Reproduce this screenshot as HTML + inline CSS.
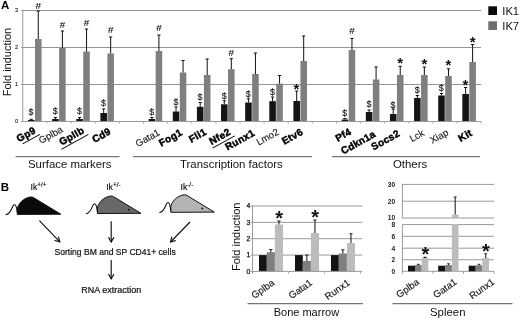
<!DOCTYPE html>
<html><head><meta charset="utf-8"><title>Figure</title>
<style>
html,body{margin:0;padding:0;background:#fff;}
body{width:520px;height:320px;overflow:hidden;}
svg{display:block;font-family:"Liberation Sans", Arial, sans-serif;will-change:transform;filter:grayscale(1);}
</style></head><body>
<svg width="520" height="320" viewBox="0 0 520 320">
<rect width="520" height="320" fill="#fff"/>
<line x1="22.8" y1="84.50" x2="481" y2="84.50" stroke="#959595" stroke-width="1.2"/>
<line x1="22.8" y1="47.50" x2="481" y2="47.50" stroke="#959595" stroke-width="1.2"/>
<line x1="22.8" y1="10.50" x2="481" y2="10.50" stroke="#959595" stroke-width="1.2"/>
<text x="18.3" y="123.40" font-size="5.8" text-anchor="end" fill="#222" stroke="#222" stroke-width="0.1">0</text>
<text x="18.3" y="86.40" font-size="5.8" text-anchor="end" fill="#222" stroke="#222" stroke-width="0.1">1</text>
<text x="18.3" y="49.40" font-size="5.8" text-anchor="end" fill="#222" stroke="#222" stroke-width="0.1">2</text>
<text x="18.3" y="12.40" font-size="5.8" text-anchor="end" fill="#222" stroke="#222" stroke-width="0.1">3</text>
<line x1="46.93" y1="121.5" x2="46.93" y2="123.7" stroke="#9a9a9a" stroke-width="0.8"/>
<rect x="28.00" y="120.00" width="6.55" height="1.50" fill="#141414"/>
<rect x="35.00" y="39.00" width="6.55" height="82.50" fill="#7f7f7f"/>
<path d="M31.27 120.00V119.30M29.67 119.30H32.88" stroke="#111" stroke-width="1.0" fill="none"/>
<path d="M38.27 39.00V11.00M36.67 11.00H39.88" stroke="#111" stroke-width="1.0" fill="none"/>
<text x="31.07" y="115.45" font-size="8.8" text-anchor="middle" fill="#111" stroke="#111" stroke-width="0.12">$</text>
<text x="38.27" y="8.65" font-size="9.8" text-anchor="middle" fill="#111" stroke="#111" stroke-width="0.15">#</text>
<g transform="translate(36.66 132.5) rotate(-29)"><text x="0" y="0" font-size="10" font-weight="bold" text-anchor="end" fill="#000" stroke="#000" stroke-width="0.45" letter-spacing="0.3">Gp9</text>
<line x1="-17.8" y1="3.2" x2="2" y2="3.2" stroke="#000" stroke-width="1"/>
</g>
<line x1="71.06" y1="121.5" x2="71.06" y2="123.7" stroke="#9a9a9a" stroke-width="0.8"/>
<rect x="52.13" y="119.00" width="6.55" height="2.50" fill="#141414"/>
<rect x="59.13" y="48.00" width="6.55" height="73.50" fill="#7f7f7f"/>
<path d="M55.41 119.00V117.50M53.80 117.50H57.01" stroke="#111" stroke-width="1.0" fill="none"/>
<path d="M62.41 48.00V31.00M60.80 31.00H64.00" stroke="#111" stroke-width="1.0" fill="none"/>
<text x="55.20" y="114.45" font-size="8.8" text-anchor="middle" fill="#111" stroke="#111" stroke-width="0.12">$</text>
<text x="62.41" y="28.40" font-size="9.8" text-anchor="middle" fill="#111" stroke="#111" stroke-width="0.15">#</text>
<g transform="translate(63.49 131.5) rotate(-29)"><text x="0" y="0" font-size="9.6" font-weight="normal" text-anchor="end" fill="#1a1a1a" stroke="#222" stroke-width="0.15">Gplba</text>
</g>
<line x1="95.19" y1="121.5" x2="95.19" y2="123.7" stroke="#9a9a9a" stroke-width="0.8"/>
<rect x="76.26" y="119.00" width="6.55" height="2.50" fill="#141414"/>
<rect x="83.26" y="51.50" width="6.55" height="70.00" fill="#7f7f7f"/>
<path d="M79.54 119.00V117.50M77.94 117.50H81.14" stroke="#111" stroke-width="1.0" fill="none"/>
<path d="M86.54 51.50V29.00M84.94 29.00H88.14" stroke="#111" stroke-width="1.0" fill="none"/>
<text x="79.34" y="113.95" font-size="8.8" text-anchor="middle" fill="#111" stroke="#111" stroke-width="0.12">$</text>
<text x="86.54" y="26.40" font-size="9.8" text-anchor="middle" fill="#111" stroke="#111" stroke-width="0.15">#</text>
<g transform="translate(85.12 132.5) rotate(-29)"><text x="0" y="0" font-size="10" font-weight="bold" text-anchor="end" fill="#000" stroke="#000" stroke-width="0.45" letter-spacing="0.3">GpIIb</text>
<line x1="-29.0" y1="3.2" x2="2" y2="3.2" stroke="#000" stroke-width="1"/>
</g>
<line x1="119.32" y1="121.5" x2="119.32" y2="123.7" stroke="#9a9a9a" stroke-width="0.8"/>
<rect x="100.39" y="113.00" width="6.55" height="8.50" fill="#141414"/>
<rect x="107.39" y="53.50" width="6.55" height="68.00" fill="#7f7f7f"/>
<path d="M103.67 113.00V109.00M102.07 109.00H105.27" stroke="#111" stroke-width="1.0" fill="none"/>
<path d="M110.67 53.50V37.00M109.07 37.00H112.27" stroke="#111" stroke-width="1.0" fill="none"/>
<text x="103.47" y="106.45" font-size="8.8" text-anchor="middle" fill="#111" stroke="#111" stroke-width="0.12">$</text>
<text x="110.67" y="33.40" font-size="9.8" text-anchor="middle" fill="#111" stroke="#111" stroke-width="0.15">#</text>
<g transform="translate(111.75 133.5) rotate(-29)"><text x="0" y="0" font-size="10" font-weight="bold" text-anchor="end" fill="#000" stroke="#000" stroke-width="0.45" letter-spacing="0.3">Cd9</text>
</g>
<line x1="143.45" y1="121.5" x2="143.45" y2="123.7" stroke="#9a9a9a" stroke-width="0.8"/>
<line x1="167.58" y1="121.5" x2="167.58" y2="123.7" stroke="#9a9a9a" stroke-width="0.8"/>
<rect x="148.65" y="119.00" width="6.55" height="2.50" fill="#141414"/>
<rect x="155.65" y="51.00" width="6.55" height="70.50" fill="#7f7f7f"/>
<path d="M151.92 119.00V117.50M150.32 117.50H153.52" stroke="#111" stroke-width="1.0" fill="none"/>
<path d="M158.92 51.00V35.00M157.32 35.00H160.52" stroke="#111" stroke-width="1.0" fill="none"/>
<text x="151.72" y="115.45" font-size="8.8" text-anchor="middle" fill="#111" stroke="#111" stroke-width="0.12">$</text>
<text x="158.92" y="31.40" font-size="9.8" text-anchor="middle" fill="#111" stroke="#111" stroke-width="0.15">#</text>
<g transform="translate(160.51 134.5) rotate(-29)"><text x="0" y="0" font-size="9.6" font-weight="normal" text-anchor="end" fill="#1a1a1a" stroke="#222" stroke-width="0.15">Gata1</text>
</g>
<line x1="191.71" y1="121.5" x2="191.71" y2="123.7" stroke="#9a9a9a" stroke-width="0.8"/>
<rect x="172.78" y="111.50" width="6.55" height="10.00" fill="#141414"/>
<rect x="179.78" y="72.50" width="6.55" height="49.00" fill="#7f7f7f"/>
<path d="M176.06 111.50V107.00M174.46 107.00H177.66" stroke="#111" stroke-width="1.0" fill="none"/>
<path d="M183.06 72.50V60.50M181.46 60.50H184.66" stroke="#111" stroke-width="1.0" fill="none"/>
<text x="175.86" y="104.75" font-size="8.8" text-anchor="middle" fill="#111" stroke="#111" stroke-width="0.12">$</text>
<g transform="translate(183.15 134.5) rotate(-29)"><text x="0" y="0" font-size="10" font-weight="bold" text-anchor="end" fill="#000" stroke="#000" stroke-width="0.45" letter-spacing="0.3">Fog1</text>
</g>
<line x1="215.84" y1="121.5" x2="215.84" y2="123.7" stroke="#9a9a9a" stroke-width="0.8"/>
<rect x="196.91" y="106.80" width="6.55" height="14.70" fill="#141414"/>
<rect x="203.91" y="75.00" width="6.55" height="46.50" fill="#7f7f7f"/>
<path d="M200.19 106.80V102.50M198.59 102.50H201.78" stroke="#111" stroke-width="1.0" fill="none"/>
<path d="M207.19 75.00V59.00M205.59 59.00H208.78" stroke="#111" stroke-width="1.0" fill="none"/>
<text x="199.99" y="99.95" font-size="8.8" text-anchor="middle" fill="#111" stroke="#111" stroke-width="0.12">$</text>
<g transform="translate(207.28 134.0) rotate(-29)"><text x="0" y="0" font-size="10" font-weight="bold" text-anchor="end" fill="#000" stroke="#000" stroke-width="0.45" letter-spacing="0.3">Fli1</text>
</g>
<line x1="239.97" y1="121.5" x2="239.97" y2="123.7" stroke="#9a9a9a" stroke-width="0.8"/>
<rect x="221.04" y="104.30" width="6.55" height="17.20" fill="#141414"/>
<rect x="228.04" y="69.20" width="6.55" height="52.30" fill="#7f7f7f"/>
<path d="M224.31 104.30V100.80M222.72 100.80H225.91" stroke="#111" stroke-width="1.0" fill="none"/>
<path d="M231.31 69.20V58.70M229.72 58.70H232.91" stroke="#111" stroke-width="1.0" fill="none"/>
<text x="224.12" y="98.95" font-size="8.8" text-anchor="middle" fill="#111" stroke="#111" stroke-width="0.12">$</text>
<text x="231.31" y="56.40" font-size="9.8" text-anchor="middle" fill="#111" stroke="#111" stroke-width="0.15">#</text>
<g transform="translate(231.41 134.0) rotate(-29)"><text x="0" y="0" font-size="10" font-weight="bold" text-anchor="end" fill="#000" stroke="#000" stroke-width="0.45" letter-spacing="0.3">Nfe2</text>
<line x1="-23.4" y1="3.2" x2="2" y2="3.2" stroke="#000" stroke-width="1"/>
</g>
<line x1="264.10" y1="121.5" x2="264.10" y2="123.7" stroke="#9a9a9a" stroke-width="0.8"/>
<rect x="245.17" y="102.50" width="6.55" height="19.00" fill="#141414"/>
<rect x="252.17" y="74.00" width="6.55" height="47.50" fill="#7f7f7f"/>
<path d="M248.44 102.50V98.80M246.84 98.80H250.04" stroke="#111" stroke-width="1.0" fill="none"/>
<path d="M255.44 74.00V53.00M253.84 53.00H257.05" stroke="#111" stroke-width="1.0" fill="none"/>
<text x="248.25" y="96.95" font-size="8.8" text-anchor="middle" fill="#111" stroke="#111" stroke-width="0.12">$</text>
<g transform="translate(255.53 135) rotate(-29)"><text x="0" y="0" font-size="10" font-weight="bold" text-anchor="end" fill="#000" stroke="#000" stroke-width="0.45" letter-spacing="0.3">Runx1</text>
</g>
<line x1="288.23" y1="121.5" x2="288.23" y2="123.7" stroke="#9a9a9a" stroke-width="0.8"/>
<rect x="269.30" y="101.20" width="6.55" height="20.30" fill="#141414"/>
<rect x="276.30" y="83.70" width="6.55" height="37.80" fill="#7f7f7f"/>
<path d="M272.57 101.20V97.00M270.97 97.00H274.17" stroke="#111" stroke-width="1.0" fill="none"/>
<path d="M279.57 83.70V75.50M277.97 75.50H281.17" stroke="#111" stroke-width="1.0" fill="none"/>
<text x="272.37" y="94.95" font-size="8.8" text-anchor="middle" fill="#111" stroke="#111" stroke-width="0.12">$</text>
<g transform="translate(279.66 134.0) rotate(-29)"><text x="0" y="0" font-size="9.6" font-weight="normal" text-anchor="end" fill="#1a1a1a" stroke="#222" stroke-width="0.15">Lmo2</text>
</g>
<line x1="312.36" y1="121.5" x2="312.36" y2="123.7" stroke="#9a9a9a" stroke-width="0.8"/>
<rect x="293.43" y="101.00" width="6.55" height="20.50" fill="#141414"/>
<rect x="300.43" y="61.00" width="6.55" height="60.50" fill="#7f7f7f"/>
<path d="M296.70 101.00V91.00M295.10 91.00H298.31" stroke="#111" stroke-width="1.0" fill="none"/>
<path d="M303.70 61.00V36.00M302.10 36.00H305.31" stroke="#111" stroke-width="1.0" fill="none"/>
<text x="296.50" y="93.70" font-size="15" font-weight="bold" text-anchor="middle" fill="#111">*</text>
<g transform="translate(303.80 134.0) rotate(-29)"><text x="0" y="0" font-size="10" font-weight="bold" text-anchor="end" fill="#000" stroke="#000" stroke-width="0.45" letter-spacing="0.3">Etv6</text>
</g>
<line x1="336.49" y1="121.5" x2="336.49" y2="123.7" stroke="#9a9a9a" stroke-width="0.8"/>
<line x1="360.62" y1="121.5" x2="360.62" y2="123.7" stroke="#9a9a9a" stroke-width="0.8"/>
<rect x="341.69" y="119.50" width="6.55" height="2.00" fill="#141414"/>
<rect x="348.69" y="50.00" width="6.55" height="71.50" fill="#7f7f7f"/>
<path d="M344.96 119.50V118.50M343.36 118.50H346.56" stroke="#111" stroke-width="1.0" fill="none"/>
<path d="M351.96 50.00V38.50M350.36 38.50H353.56" stroke="#111" stroke-width="1.0" fill="none"/>
<text x="344.76" y="116.25" font-size="8.8" text-anchor="middle" fill="#111" stroke="#111" stroke-width="0.12">$</text>
<text x="351.96" y="34.40" font-size="9.8" text-anchor="middle" fill="#111" stroke="#111" stroke-width="0.15">#</text>
<g transform="translate(352.06 134.0) rotate(-29)"><text x="0" y="0" font-size="10" font-weight="bold" text-anchor="end" fill="#000" stroke="#000" stroke-width="0.45" letter-spacing="0.3">Pf4</text>
</g>
<line x1="384.75" y1="121.5" x2="384.75" y2="123.7" stroke="#9a9a9a" stroke-width="0.8"/>
<rect x="365.82" y="112.00" width="6.55" height="9.50" fill="#141414"/>
<rect x="372.82" y="79.50" width="6.55" height="42.00" fill="#7f7f7f"/>
<path d="M369.09 112.00V110.00M367.49 110.00H370.69" stroke="#111" stroke-width="1.0" fill="none"/>
<path d="M376.09 79.50V67.00M374.49 67.00H377.69" stroke="#111" stroke-width="1.0" fill="none"/>
<text x="368.89" y="106.95" font-size="8.8" text-anchor="middle" fill="#111" stroke="#111" stroke-width="0.12">$</text>
<g transform="translate(376.49 136.2) rotate(-29)"><text x="0" y="0" font-size="10" font-weight="bold" text-anchor="end" fill="#000" stroke="#000" stroke-width="0.45" letter-spacing="0.3">Cdkn1a</text>
</g>
<line x1="408.88" y1="121.5" x2="408.88" y2="123.7" stroke="#9a9a9a" stroke-width="0.8"/>
<rect x="389.95" y="114.00" width="6.55" height="7.50" fill="#141414"/>
<rect x="396.95" y="75.00" width="6.55" height="46.50" fill="#7f7f7f"/>
<path d="M393.22 114.00V109.00M391.62 109.00H394.82" stroke="#111" stroke-width="1.0" fill="none"/>
<path d="M400.22 75.00V66.30M398.62 66.30H401.82" stroke="#111" stroke-width="1.0" fill="none"/>
<text x="393.02" y="107.95" font-size="8.8" text-anchor="middle" fill="#111" stroke="#111" stroke-width="0.12">$</text>
<text x="400.22" y="67.75" font-size="15" font-weight="bold" text-anchor="middle" fill="#111">*</text>
<g transform="translate(400.62 135.5) rotate(-29)"><text x="0" y="0" font-size="10" font-weight="bold" text-anchor="end" fill="#000" stroke="#000" stroke-width="0.45" letter-spacing="0.3">Socs2</text>
</g>
<line x1="433.01" y1="121.5" x2="433.01" y2="123.7" stroke="#9a9a9a" stroke-width="0.8"/>
<rect x="414.08" y="98.00" width="6.55" height="23.50" fill="#141414"/>
<rect x="421.08" y="75.00" width="6.55" height="46.50" fill="#7f7f7f"/>
<path d="M417.35 98.00V95.50M415.75 95.50H418.95" stroke="#111" stroke-width="1.0" fill="none"/>
<path d="M424.35 75.00V67.00M422.75 67.00H425.95" stroke="#111" stroke-width="1.0" fill="none"/>
<text x="417.15" y="92.95" font-size="8.8" text-anchor="middle" fill="#111" stroke="#111" stroke-width="0.12">$</text>
<text x="424.35" y="69.00" font-size="15" font-weight="bold" text-anchor="middle" fill="#111">*</text>
<g transform="translate(424.94 135) rotate(-29)"><text x="0" y="0" font-size="9.6" font-weight="normal" text-anchor="end" fill="#1a1a1a" stroke="#222" stroke-width="0.15">Lck</text>
</g>
<line x1="457.14" y1="121.5" x2="457.14" y2="123.7" stroke="#9a9a9a" stroke-width="0.8"/>
<rect x="438.21" y="95.50" width="6.55" height="26.00" fill="#141414"/>
<rect x="445.21" y="76.00" width="6.55" height="45.50" fill="#7f7f7f"/>
<path d="M441.48 95.50V93.50M439.88 93.50H443.08" stroke="#111" stroke-width="1.0" fill="none"/>
<path d="M448.48 76.00V68.80M446.88 68.80H450.08" stroke="#111" stroke-width="1.0" fill="none"/>
<text x="441.28" y="91.45" font-size="8.8" text-anchor="middle" fill="#111" stroke="#111" stroke-width="0.12">$</text>
<text x="448.48" y="70.25" font-size="15" font-weight="bold" text-anchor="middle" fill="#111">*</text>
<g transform="translate(449.07 134.5) rotate(-29)"><text x="0" y="0" font-size="9.6" font-weight="normal" text-anchor="end" fill="#1a1a1a" stroke="#222" stroke-width="0.15">Xiap</text>
</g>
<line x1="481.27" y1="121.5" x2="481.27" y2="123.7" stroke="#9a9a9a" stroke-width="0.8"/>
<rect x="462.34" y="94.00" width="6.55" height="27.50" fill="#141414"/>
<rect x="469.34" y="62.00" width="6.55" height="59.50" fill="#7f7f7f"/>
<path d="M465.61 94.00V87.50M464.01 87.50H467.21" stroke="#111" stroke-width="1.0" fill="none"/>
<path d="M472.61 62.00V44.50M471.01 44.50H474.21" stroke="#111" stroke-width="1.0" fill="none"/>
<text x="465.41" y="89.50" font-size="15" font-weight="bold" text-anchor="middle" fill="#111">*</text>
<text x="472.61" y="46.50" font-size="15" font-weight="bold" text-anchor="middle" fill="#111">*</text>
<g transform="translate(473.00 135) rotate(-29)"><text x="0" y="0" font-size="10" font-weight="bold" text-anchor="end" fill="#000" stroke="#000" stroke-width="0.45" letter-spacing="0.3">Kit</text>
</g>
<line x1="22.8" y1="10.00" x2="22.8" y2="122.0" stroke="#9a9a9a" stroke-width="1"/>
<line x1="20.8" y1="121.5" x2="481" y2="121.5" stroke="#9a9a9a" stroke-width="1"/>
<line x1="20.8" y1="84.50" x2="22.8" y2="84.50" stroke="#9a9a9a" stroke-width="1"/>
<line x1="20.8" y1="47.50" x2="22.8" y2="47.50" stroke="#9a9a9a" stroke-width="1"/>
<line x1="20.8" y1="10.50" x2="22.8" y2="10.50" stroke="#9a9a9a" stroke-width="1"/>
<text transform="translate(11.3 96.3) rotate(-90)" font-size="11" fill="#111">Fold induction</text>
<text x="1" y="9.3" font-size="11.5" font-weight="bold" fill="#000">A</text>
<rect x="488.3" y="6.3" width="8.7" height="8.7" fill="#0a0a0a"/>
<rect x="488.3" y="21.3" width="8.7" height="8.7" fill="#6e6e6e"/>
<text x="502.3" y="15" font-size="11.2" fill="#111">IK1</text>
<text x="502.3" y="29.6" font-size="11.2" fill="#111">IK7</text>
<line x1="15.5" y1="156.7" x2="119.5" y2="156.7" stroke="#555" stroke-width="1"/>
<line x1="133" y1="156.7" x2="312" y2="156.7" stroke="#555" stroke-width="1"/>
<line x1="332" y1="156.7" x2="480" y2="156.7" stroke="#555" stroke-width="1"/>
<text x="28" y="168" font-size="11.4" fill="#111">Surface markers</text>
<text x="180" y="168" font-size="11.4" fill="#111">Transcription factors</text>
<text x="393" y="168" font-size="11.4" fill="#111">Others</text>
<text x="0.8" y="190.6" font-size="11.5" font-weight="bold" fill="#000">B</text>
<g transform="translate(0 0)">
<path d="M17.3 214.4 L17.3 209 C17.8 204.5 23 197.6 31.2 196.9 C32 196.9 32.8 197.2 33.5 197.6 L60.8 214.2 Z" fill="#0a0a0a" stroke="#111" stroke-width="1" stroke-linejoin="round"/>
<path d="M6.2 214.6 C9.5 214.2 11.5 209.5 12.6 206.8 C13.4 204.9 14.3 204.5 15 204.8 C16.3 205.3 16.7 208 17.3 212.5" fill="none" stroke="#111" stroke-width="1.1" stroke-linecap="round"/>
</g>
<g transform="translate(80.1 -0.9)">
<path d="M17.3 214.4 L17.3 209 C17.8 204.5 23 197.6 31.2 196.9 C32 196.9 32.8 197.2 33.5 197.6 L60.8 214.2 Z" fill="#686868" stroke="#111" stroke-width="1" stroke-linejoin="round"/>
<path d="M6.2 214.6 C9.5 214.2 11.5 209.5 12.6 206.8 C13.4 204.9 14.3 204.5 15 204.8 C16.3 205.3 16.7 208 17.3 212.5" fill="none" stroke="#111" stroke-width="1.1" stroke-linecap="round"/>
<circle cx="48.7" cy="210.7" r="1" fill="#111"/>
</g>
<g transform="translate(153.5 -2.1)">
<path d="M17.3 214.4 L17.3 209 C17.8 204.5 23 197.6 31.2 196.9 C32 196.9 32.8 197.2 33.5 197.6 L60.8 214.2 Z" fill="#b4b4b4" stroke="#111" stroke-width="1" stroke-linejoin="round"/>
<path d="M6.2 214.6 C9.5 214.2 11.5 209.5 12.6 206.8 C13.4 204.9 14.3 204.5 15 204.8 C16.3 205.3 16.7 208 17.3 212.5" fill="none" stroke="#111" stroke-width="1.1" stroke-linecap="round"/>
<circle cx="48.7" cy="210.7" r="1" fill="#111"/>
</g>
<text x="30.5" y="190" font-size="8.6" fill="#111" stroke="#111" stroke-width="0.15">Ik<tspan dy="-3" font-size="6.5">+/+</tspan></text>
<text x="106.2" y="190" font-size="8.6" fill="#111" stroke="#111" stroke-width="0.15">Ik<tspan dy="-3" font-size="6.5">+/-</tspan></text>
<text x="180.5" y="190" font-size="8.6" fill="#111" stroke="#111" stroke-width="0.15">Ik<tspan dy="-3" font-size="6.5">-/-</tspan></text>
<line x1="39.4" y1="220.6" x2="59.8" y2="241.9" stroke="#111" stroke-width="1.15"/>
<path d="M55.00 240.48L59.8 241.9L58.59 237.05" fill="none" stroke="#111" stroke-width="1.15" stroke-linecap="round" stroke-linejoin="miter"/>
<line x1="111.2" y1="221.3" x2="111.2" y2="242" stroke="#111" stroke-width="1.15"/>
<path d="M108.72 237.66L111.2 242L113.68 237.66" fill="none" stroke="#111" stroke-width="1.15" stroke-linecap="round" stroke-linejoin="miter"/>
<line x1="190" y1="222" x2="170.5" y2="242" stroke="#111" stroke-width="1.15"/>
<path d="M171.75 237.16L170.5 242L175.31 240.63" fill="none" stroke="#111" stroke-width="1.15" stroke-linecap="round" stroke-linejoin="miter"/>
<line x1="111.2" y1="260" x2="111.2" y2="278.8" stroke="#111" stroke-width="1.15"/>
<path d="M108.72 274.46L111.2 278.8L113.68 274.46" fill="none" stroke="#111" stroke-width="1.15" stroke-linecap="round" stroke-linejoin="miter"/>
<text x="54.5" y="254.5" font-size="8.4" fill="#111" stroke="#111" stroke-width="0.2" textLength="121.2" lengthAdjust="spacingAndGlyphs">Sorting BM and SP CD41+ cells</text>
<text x="81.2" y="292.5" font-size="8.4" fill="#111" stroke="#111" stroke-width="0.2" textLength="60" lengthAdjust="spacingAndGlyphs">RNA extraction</text>
<line x1="250.5" y1="255.05" x2="362.3" y2="255.05" stroke="#9a9a9a" stroke-width="1"/>
<line x1="250.5" y1="238.70" x2="362.3" y2="238.70" stroke="#9a9a9a" stroke-width="1"/>
<line x1="250.5" y1="222.35" x2="362.3" y2="222.35" stroke="#9a9a9a" stroke-width="1"/>
<line x1="250.5" y1="206.00" x2="362.3" y2="206.00" stroke="#9a9a9a" stroke-width="1"/>
<text x="250.3" y="273.80" font-size="6.8" text-anchor="end" fill="#111" stroke="#111" stroke-width="0.25">0</text>
<text x="250.3" y="257.45" font-size="6.8" text-anchor="end" fill="#111" stroke="#111" stroke-width="0.25">1</text>
<text x="250.3" y="241.10" font-size="6.8" text-anchor="end" fill="#111" stroke="#111" stroke-width="0.25">2</text>
<text x="250.3" y="224.75" font-size="6.8" text-anchor="end" fill="#111" stroke="#111" stroke-width="0.25">3</text>
<text x="250.3" y="208.40" font-size="6.8" text-anchor="end" fill="#111" stroke="#111" stroke-width="0.25">4</text>
<rect x="259.00" y="255.1" width="7.8" height="16.30" fill="#141414"/>
<rect x="266.80" y="252.2" width="8.1" height="19.20" fill="#7f7f7f"/>
<rect x="274.90" y="224.5" width="8.1" height="46.90" fill="#bcbcbc"/>
<path d="M270.85 252.20V249.50M269.25 249.50H272.45" stroke="#222" stroke-width="1.1" fill="none"/>
<path d="M278.95 224.50V221.00M277.35 221.00H280.55" stroke="#222" stroke-width="1.1" fill="none"/>
<text x="279.20" y="224.90" font-size="20" font-weight="bold" text-anchor="middle" fill="#111">*</text>
<line x1="288.50" y1="271.4" x2="288.50" y2="273.9" stroke="#9a9a9a" stroke-width="0.8"/>
<g transform="translate(275.20 284.3) rotate(-35)"><text font-size="9.6" text-anchor="end" fill="#111" stroke="#111" stroke-width="0.15">Gplba</text></g>
<rect x="295.00" y="255.1" width="7.8" height="16.30" fill="#141414"/>
<rect x="302.80" y="261.0" width="8.1" height="10.40" fill="#7f7f7f"/>
<rect x="310.90" y="233.0" width="8.1" height="38.40" fill="#bcbcbc"/>
<path d="M306.85 261.00V255.00M305.25 255.00H308.45" stroke="#222" stroke-width="1.1" fill="none"/>
<path d="M314.95 233.00V220.00M313.35 220.00H316.55" stroke="#222" stroke-width="1.1" fill="none"/>
<text x="315.20" y="224.20" font-size="20" font-weight="bold" text-anchor="middle" fill="#111">*</text>
<line x1="324.50" y1="271.4" x2="324.50" y2="273.9" stroke="#9a9a9a" stroke-width="0.8"/>
<g transform="translate(313.00 284.3) rotate(-35)"><text font-size="9.6" text-anchor="end" fill="#111" stroke="#111" stroke-width="0.15">Gata1</text></g>
<rect x="331.00" y="255.1" width="7.8" height="16.30" fill="#141414"/>
<rect x="338.80" y="253.5" width="8.1" height="17.90" fill="#7f7f7f"/>
<rect x="346.90" y="243.0" width="8.1" height="28.40" fill="#bcbcbc"/>
<path d="M342.85 253.50V249.80M341.25 249.80H344.45" stroke="#222" stroke-width="1.1" fill="none"/>
<path d="M350.95 243.00V233.80M349.35 233.80H352.55" stroke="#222" stroke-width="1.1" fill="none"/>
<line x1="360.50" y1="271.4" x2="360.50" y2="273.9" stroke="#9a9a9a" stroke-width="0.8"/>
<g transform="translate(350.50 284.3) rotate(-35)"><text font-size="9.6" text-anchor="end" fill="#111" stroke="#111" stroke-width="0.15">Runx1</text></g>
<line x1="252.5" y1="205.50" x2="252.5" y2="273.9" stroke="#9a9a9a" stroke-width="1"/>
<line x1="250.5" y1="271.4" x2="362.3" y2="271.4" stroke="#9a9a9a" stroke-width="1"/>
<text transform="translate(239.8 271) rotate(-90)" font-size="11" fill="#111">Fold induction</text>
<line x1="247.5" y1="303.7" x2="363" y2="303.7" stroke="#555" stroke-width="1"/>
<text x="273.7" y="316.3" font-size="11" fill="#111">Bone marrow</text>
<line x1="402.4" y1="271.3" x2="494" y2="271.3" stroke="#9a9a9a" stroke-width="1"/>
<text x="395.2" y="273.70" font-size="6.6" text-anchor="end" fill="#222" font-weight="bold">0</text>
<line x1="402.4" y1="259.75" x2="494" y2="259.75" stroke="#9a9a9a" stroke-width="1"/>
<text x="395.2" y="262.15" font-size="6.6" text-anchor="end" fill="#222" font-weight="bold">2</text>
<line x1="402.4" y1="248.2" x2="494" y2="248.2" stroke="#9a9a9a" stroke-width="1"/>
<text x="395.2" y="250.60" font-size="6.6" text-anchor="end" fill="#222" font-weight="bold">4</text>
<line x1="402.4" y1="236.3" x2="494" y2="236.3" stroke="#9a9a9a" stroke-width="1"/>
<text x="395.2" y="238.70" font-size="6.6" text-anchor="end" fill="#222" font-weight="bold">6</text>
<line x1="402.4" y1="224.6" x2="494" y2="224.6" stroke="#9a9a9a" stroke-width="1"/>
<text x="395.2" y="227.00" font-size="6.6" text-anchor="end" fill="#222" font-weight="bold">8</text>
<line x1="402.4" y1="218.0" x2="494" y2="218.0" stroke="#9a9a9a" stroke-width="1"/>
<text x="395.2" y="220.40" font-size="6.6" text-anchor="end" fill="#222" font-weight="bold">10</text>
<line x1="402.4" y1="201.2" x2="494" y2="201.2" stroke="#9a9a9a" stroke-width="1"/>
<text x="395.2" y="203.60" font-size="6.6" text-anchor="end" fill="#222" font-weight="bold">20</text>
<line x1="402.4" y1="184.4" x2="494" y2="184.4" stroke="#9a9a9a" stroke-width="1"/>
<text x="395.2" y="186.80" font-size="6.6" text-anchor="end" fill="#222" font-weight="bold">30</text>
<line x1="402.4" y1="184" x2="402.4" y2="218.5" stroke="#9a9a9a" stroke-width="1"/>
<line x1="402.4" y1="224.1" x2="402.4" y2="271.8" stroke="#9a9a9a" stroke-width="1"/>
<rect x="408.00" y="265.7" width="7" height="5.60" fill="#141414"/>
<rect x="415.00" y="265.0" width="6.7" height="6.30" fill="#7f7f7f"/>
<rect x="421.70" y="258.0" width="6.6" height="13.30" fill="#bcbcbc"/>
<path d="M418.30 265.00V264.30M416.90 264.30H419.70" stroke="#222" stroke-width="1.0" fill="none"/>
<path d="M425.00 258.00V257.40M423.50 257.40H426.50" stroke="#222" stroke-width="1.1" fill="none"/>
<text x="425.30" y="260.90" font-size="20" font-weight="bold" text-anchor="middle" fill="#111">*</text>
<g transform="translate(420.00 283.5) rotate(-35)"><text font-size="9.6" text-anchor="end" fill="#111" stroke="#111" stroke-width="0.15">Gplba</text></g>
<rect x="438.20" y="265.7" width="7" height="5.60" fill="#141414"/>
<rect x="445.20" y="265.0" width="6.7" height="6.30" fill="#7f7f7f"/>
<rect x="451.90" y="214.5" width="6.6" height="56.80" fill="#bcbcbc"/>
<path d="M448.50 265.00V263.80M447.10 263.80H449.90" stroke="#222" stroke-width="1.0" fill="none"/>
<path d="M455.20 214.50V197.00M453.70 197.00H456.70" stroke="#222" stroke-width="1.1" fill="none"/>
<g transform="translate(457.50 283.5) rotate(-35)"><text font-size="9.6" text-anchor="end" fill="#111" stroke="#111" stroke-width="0.15">Gata1</text></g>
<rect x="468.70" y="265.7" width="7" height="5.60" fill="#141414"/>
<rect x="475.70" y="265.2" width="6.7" height="6.10" fill="#7f7f7f"/>
<rect x="482.40" y="258.0" width="6.6" height="13.30" fill="#bcbcbc"/>
<path d="M479.00 265.20V264.30M477.60 264.30H480.40" stroke="#222" stroke-width="1.0" fill="none"/>
<path d="M485.70 258.00V253.80M484.20 253.80H487.20" stroke="#222" stroke-width="1.1" fill="none"/>
<text x="486.00" y="258.40" font-size="20" font-weight="bold" text-anchor="middle" fill="#111">*</text>
<g transform="translate(495.00 283.5) rotate(-35)"><text font-size="9.6" text-anchor="end" fill="#111" stroke="#111" stroke-width="0.15">Runx1</text></g>
<line x1="402.4" y1="271.3" x2="402.4" y2="273.8" stroke="#9a9a9a" stroke-width="0.9"/>
<line x1="433.0" y1="271.3" x2="433.0" y2="273.8" stroke="#9a9a9a" stroke-width="0.9"/>
<line x1="463.5" y1="271.3" x2="463.5" y2="273.8" stroke="#9a9a9a" stroke-width="0.9"/>
<line x1="494" y1="271.3" x2="494" y2="273.8" stroke="#9a9a9a" stroke-width="0.9"/>
<rect x="451" y="218.8" width="9" height="5.2" fill="#fff"/>
<line x1="392.5" y1="303.7" x2="512.5" y2="303.7" stroke="#555" stroke-width="1"/>
<text x="430" y="316.3" font-size="11.4" fill="#111">Spleen</text>
</svg>
</body></html>
